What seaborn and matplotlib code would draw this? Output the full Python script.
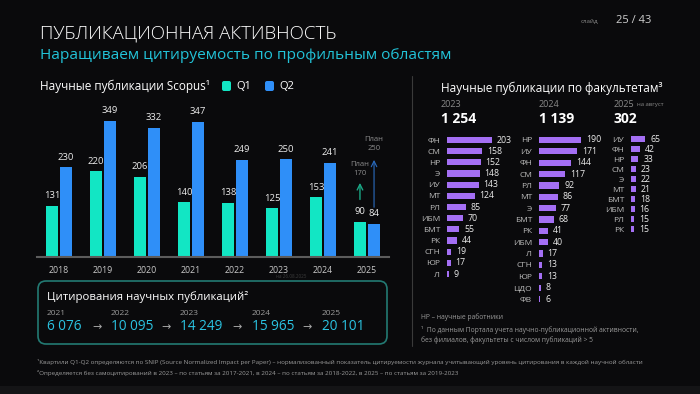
import numpy as np
import pandas as pd
import matplotlib.pyplot as plt
import seaborn as sns
from matplotlib.patches import FancyBboxPatch, Rectangle

sns.set_style("dark")
plt.rcParams['font.family'] = ['Open Sans', 'DejaVu Sans']

# ---- data ----
years = ['2018', '2019', '2020', '2021', '2022', '2023', '2024', '2025']
q1 = [131, 220, 206, 140, 138, 125, 153, 90]
q2 = [230, 349, 332, 347, 249, 250, 241, 84]
plan_q1 = 170
plan_q2 = 250

cit_years = ['2021', '2022', '2023', '2024', '2025']
cit_values = [6076, 10095, 14249, 15965, 20101]

fac_2023 = ['ФН', 'СМ', 'НР', 'Э', 'ИУ', 'МТ', 'РЛ', 'ИБМ', 'БМТ', 'РК', 'СГН', 'ЮР', 'Л']
val_2023 = [203, 158, 152, 148, 143, 124, 85, 70, 55, 44, 19, 17, 9]
fac_2024 = ['НР', 'ИУ', 'ФН', 'СМ', 'РЛ', 'МТ', 'Э', 'БМТ', 'РК', 'ИБМ', 'Л', 'СГН', 'ЮР', 'ЦДО', 'ФВ']
val_2024 = [190, 171, 144, 117, 92, 86, 77, 68, 41, 40, 17, 13, 13, 8, 6]
fac_2025 = ['ИУ', 'ФН', 'НР', 'СМ', 'Э', 'МТ', 'БМТ', 'ИБМ', 'РЛ', 'РК']
val_2025 = [65, 42, 33, 23, 22, 21, 18, 16, 15, 15]
fac_totals = [1254, 1139, 302]

# ---- colours ----
BG = '#0a0a0c'
C_Q1 = '#12e6c4'
C_Q2 = '#2f8ff8'
PURPLE = '#a46ff4'
CYAN = '#22c3d8'
GRAY = '#9a9a9a'
W, H = 700, 394

fig = plt.figure(figsize=(7, 3.94), dpi=100)
fig.patch.set_facecolor(BG)


def px_box(x0, y0, x1, y1):
    # pixel box -> figure fraction
    return [x0 / W, 1 - y1 / H, (x1 - x0) / W, (y1 - y0) / H]


# overlay axes in pixel coords for texts and decorations
ov = fig.add_axes([0, 0, 1, 1])
ov.set_xlim(0, W)
ov.set_ylim(H, 0)
ov.axis('off')
ov.add_patch(Rectangle((0, 386), W, 8, color='#141416', lw=0))

ov.text(40, 33, 'ПУБЛИКАЦИОННАЯ АКТИВНОСТЬ', color='white', fontsize=13.5,
        fontweight='light', va='center')
ov.text(40, 55, 'Наращиваем цитируемость по профильным областям', color=CYAN,
        fontsize=11.1, va='center')
ov.text(598, 21, 'слайд', color='#8a8a8a', fontsize=4.5, va='center', ha='right')
ov.text(651, 20, '25 / 43', color='#cfcfcf', fontsize=8, va='center', ha='right')

# left header + legend
ov.text(40, 86, 'Научные публикации Scopus¹', color='white', fontsize=8.5, va='center')
for xb, lab, col in [(222, 'Q1', C_Q1), (265, 'Q2', C_Q2)]:
    ov.add_patch(FancyBboxPatch((xb, 81), 9, 10, boxstyle='round,pad=0,rounding_size=2',
                                color=col, lw=0))
    ov.text(xb + 14, 86, lab, color='white', fontsize=8, va='center')

# divider
ov.plot([412, 412], [76, 346], color='#3a3a3a', lw=0.8)

# ---- Scopus bar chart ----
df = pd.DataFrame({
    'year': years * 2,
    'quart': ['Q1'] * len(years) + ['Q2'] * len(years),
    'count': q1 + q2,
})
ax = fig.add_axes(px_box(37, 116.7, 389, 256.7))
sns.barplot(data=df, x='year', y='count', hue='quart', palette={'Q1': C_Q1, 'Q2': C_Q2},
            width=0.64, gap=0.16, linewidth=0, saturation=1, legend=False, ax=ax)
ax.set_facecolor('none')
ax.set_ylim(0, 360)
ax.set_xlim(-0.5, len(years) - 0.5)
for c in ax.containers:
    ax.bar_label(c, padding=4, fontsize=6.8, color='#ececec')
for s in ['top', 'right', 'left']:
    ax.spines[s].set_visible(False)
ax.spines['bottom'].set_color('#5c5c5c')
ax.spines['bottom'].set_linewidth(1.5)
ax.set_yticks([])
ax.tick_params(axis='x', length=0, pad=7, labelsize=6.3, labelcolor='#c8c8c8')
ax.set_xlabel('')
ax.set_ylabel('')
ax.grid(False)

# plan arrows for 2025
xi = len(years) - 1
ax.annotate('', xy=(xi - 0.16, plan_q1 + 27), xytext=(xi - 0.16, q1[-1] + 50),
            arrowprops=dict(arrowstyle='->', color='#1aa886', lw=1.0))
ax.text(xi - 0.16, plan_q1 + 34, f'План\n{plan_q1}', color='#8c8c8c', fontsize=5.5,
        ha='center', va='bottom', linespacing=1.5)
ax.annotate('', xy=(xi + 0.16, plan_q2 + 6), xytext=(xi + 0.16, q2[-1] + 36),
            arrowprops=dict(arrowstyle='->', color='#2a6cc0', lw=0.8))
ax.text(xi + 0.16, plan_q2 + 19, f'План\n{plan_q2}', color='#8c8c8c', fontsize=5.5,
        ha='center', va='bottom', linespacing=1.5)
ov.text(291, 276.5, 'на 26.08.2025', color='#3c3c3c', fontsize=3.3, ha='center', va='center')

# ---- citations box ----
ov.add_patch(FancyBboxPatch((38, 281), 349, 63, boxstyle='round,pad=0,rounding_size=8',
                            fc='none', ec='#237a73', lw=1.2))
ov.text(47, 297, 'Цитирования научных публикаций²', color='white', fontsize=8.2, va='center')
cit_x = [47, 110.7, 180, 251.7, 322]
arrow_x = [96.7, 165.7, 236.7, 306.7]
for xx, yr, v in zip(cit_x, cit_years, cit_values):
    ov.text(xx, 313.5, yr, color=GRAY, fontsize=6, va='center')
    ov.text(xx, 327, f'{v:,}'.replace(',', ' '), color='#2bc4e2', fontsize=9.8, va='center')
for xx in arrow_x:
    ov.text(xx, 327.5, '→', color='#a8a8a8', fontsize=8, va='center', ha='center')

# ---- faculties ----
ov.text(441, 88, 'Научные публикации по факультетам³', color='white', fontsize=8.5, va='center')
col_x = [441, 539, 614]
for xx, yr, tot in zip(col_x, ['2023', '2024', '2025'], fac_totals):
    ov.text(xx, 104, yr, color='#8a8a8a', fontsize=6.5, va='center')
    ov.text(xx, 119, f'{tot:,}'.replace(',', ' '), color='white', fontsize=10,
            fontweight='bold', va='center')
ov.text(637, 104.5, 'на август', color='#8a8a8a', fontsize=4.3, va='center')

cols = [
    (fac_2023, val_2023, 447, 140, 11.17),
    (fac_2024, val_2024, 539, 140, 11.36),
    (fac_2025, val_2025, 631, 139, 10.0),
]
for labs, vals, x0, y_first, step in cols:
    n = len(labs)
    top = y_first - step / 2
    fa = fig.add_axes(px_box(x0, top, x0 + 230 * 0.222, top + n * step))
    sns.barplot(x=vals, y=labs, orient='h', color=PURPLE, width=0.55, linewidth=0,
                saturation=1, ax=fa)
    fa.set_facecolor('none')
    fa.set_xlim(0, 230)
    fa.bar_label(fa.containers[0], padding=3.5, fontsize=6.3, color='#ececec')
    for s in fa.spines.values():
        s.set_visible(False)
    fa.set_xticks([])
    fa.tick_params(axis='y', length=0, pad=5, labelsize=6, labelcolor='#bdbdbd')
    fa.set_xlabel('')
    fa.set_ylabel('')
    fa.grid(False)

# notes
ov.text(421, 317, 'НР – научные работники', color=GRAY, fontsize=4.9, va='center')
ov.text(421, 330, '¹  По данным Портала учета научно-публикационной активности,',
        color=GRAY, fontsize=4.9, va='center')
ov.text(421, 340, 'без филиалов, факультеты с числом публикаций > 5',
        color=GRAY, fontsize=4.9, va='center')
ov.text(37, 362, '¹Квартили Q1-Q2 определяются по SNIP (Source Normalized Impact per Paper) – '
        'нормализованный показатель цитируемости журнала учитывающий уровень цитирования '
        'в каждой научной области', color=GRAY, fontsize=4.5, va='center')
ov.text(37, 373, '²Определяется без самоцитирований в 2023 – по статьям за 2017-2021, '
        'в 2024 – по статьям за 2018-2022, в 2025 – по статьям за 2019-2023',
        color=GRAY, fontsize=4.5, va='center')

fig.savefig('out.png', dpi=100, facecolor=BG)
